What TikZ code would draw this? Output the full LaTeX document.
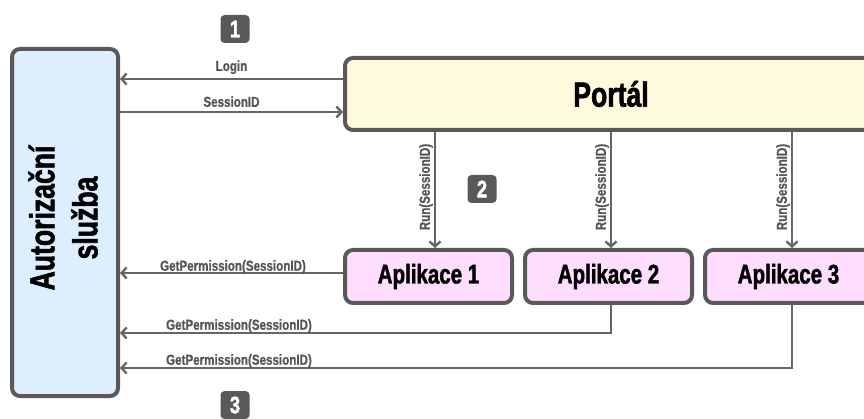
\documentclass[tikz,border=0pt]{standalone}
\usepackage{fontspec}
\usetikzlibrary{arrows.meta}
\newfontfamily\cond{Liberation Sans}[FakeStretch=0.76, BoldFeatures={FakeBold=1.6}]
\newfontfamily\condsm{Liberation Sans}[FakeStretch=0.8, BoldFeatures={FakeBold=0.8}]
\definecolor{edge}{HTML}{595959}
\definecolor{wire}{HTML}{666666}
\definecolor{lbl}{HTML}{555555}
\definecolor{authfill}{HTML}{DDEEFF}
\definecolor{portalfill}{HTML}{FFFADD}
\definecolor{appfill}{HTML}{FFDDFF}
\tikzset{
  box/.style={draw=edge, line width=4pt, rounded corners=8pt, inner sep=0pt},
  appbox/.style={box, fill=appfill, minimum width=167pt, minimum height=53pt,
    font=\cond\bfseries\fontsize{27}{30}\selectfont},
  arr/.style={draw=wire, line width=2pt,
    -{Straight Barb[length=5pt, width=11pt, line width=2.4pt]}},
  msg/.style={text=lbl, inner sep=0pt, font=\condsm\bfseries\fontsize{14.5}{16}\selectfont},
  badge/.style={fill=edge, rounded corners=4pt, minimum width=29pt, minimum height=28pt,
    inner sep=0pt, text=white, font=\cond\bfseries\fontsize{24}{26}\selectfont}
}
\begin{document}
\begin{tikzpicture}[x=1pt, y=-1pt]
\useasboundingbox (0,0) rectangle (864,419);

% authorization service
\node[box, fill=authfill, minimum width=106pt, minimum height=347pt] (auth) at (65,222.5) {};
\node[rotate=90, align=center, font=\cond\bfseries\fontsize{35}{43}\selectfont] (authtext) at (63,218)
  {Autorizační\\služba};

% portal
\node[box, fill=portalfill, minimum width=532pt, minimum height=72pt,
  font=\cond\bfseries\fontsize{35}{40}\selectfont] (portal) at (611,94) {Portál};

% applications
\node[appbox] (a1) at (428.5,276.5) {Aplikace 1};
\node[appbox] (a2) at (608.5,276.5) {Aplikace 2};
\node[appbox] (a3) at (788.5,276.5) {Aplikace 3};

% step badges
\node[badge] (b1) at (235,29) {1};
\node[badge] (b2) at (482,189) {2};
\node[badge] (b3) at (235,405) {3};

% helper rows and columns
\coordinate (yLogin) at (0,79);
\coordinate (ySess) at (0,112);
\coordinate (yPerm1) at (0,273);
\coordinate (yPerm2) at (0,333);
\coordinate (yPerm3) at (0,368);
\coordinate (xRun1) at (435,0);
\coordinate (xRun2) at (611,0);
\coordinate (xRun3) at (792,0);

% step 1: login
\draw[arr] (portal.west |- yLogin) -- node[msg, above=4pt] (tLogin) {Login} (auth.east |- yLogin);
\draw[arr] (auth.east |- ySess) -- node[msg, above=4pt] (tSess) {SessionID} (portal.west |- ySess);

% step 2: running the applications
\draw[arr] (xRun1 |- portal.south) -- (xRun1 |- a1.north);
\draw[arr] (xRun2 |- portal.south) -- (xRun2 |- a2.north);
\draw[arr] (xRun3 |- portal.south) -- (xRun3 |- a3.north);
\node[msg, rotate=90, anchor=south] (tRun1) at (433,187) {Run(SessionID)};
\node[msg, rotate=90, anchor=south] (tRun2) at (609,187) {Run(SessionID)};
\node[msg, rotate=90, anchor=south] (tRun3) at (790,187) {Run(SessionID)};

% step 3: permission checks
\draw[arr] (a1.west |- yPerm1) -- (auth.east |- yPerm1);
\draw[arr] (xRun2 |- a2.south) -- (xRun2 |- yPerm2) -- (auth.east |- yPerm2);
\draw[arr] (xRun3 |- a3.south) -- (xRun3 |- yPerm3) -- (auth.east |- yPerm3);
\node[msg] (tPerm1) at (233,267) {GetPermission(SessionID)};
\node[msg] (tPerm2) at (239,326) {GetPermission(SessionID)};
\node[msg] (tPerm3) at (239,361) {GetPermission(SessionID)};
\end{tikzpicture}
\end{document}
